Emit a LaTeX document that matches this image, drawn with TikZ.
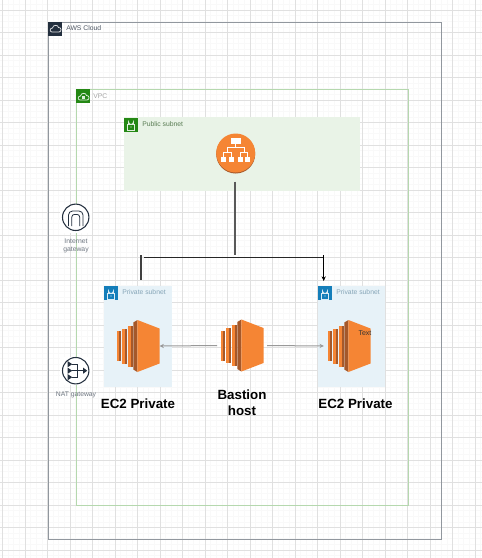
\documentclass[tikz,border=0pt]{standalone}
\usepackage{fontspec}
\setmainfont{Liberation Sans}
\usetikzlibrary{arrows.meta}
\definecolor{awsorange}{HTML}{F58534}
\definecolor{awsdark}{HTML}{A5582A}
\definecolor{awsnavy}{HTML}{232F3E}
\definecolor{tabgreen}{HTML}{248814}
\definecolor{tabblue}{HTML}{147EBA}
\definecolor{vpcline}{HTML}{B5D8AE}
\tikzset{
  x=0.75pt,y=-0.75pt,
  framebox/.style={draw=#1,line width=0.85pt,fill=none,inner sep=0pt,anchor=north west},
  fillbox/.style={fill=#1,draw=none,inner sep=0pt,anchor=north west},
  tabbox/.style={fill=#1,draw=none,inner sep=0pt,minimum size=10.5pt,anchor=north west},
  smalllabel/.style={text=#1,font=\fontsize{5.1pt}{6.2pt}\selectfont,anchor=west,inner sep=0pt},
  gwlabel/.style={text=#1,font=\fontsize{5.1pt}{5.8pt}\selectfont,align=center,inner sep=0pt},
  biglabel/.style={font=\bfseries\fontsize{10pt}{12pt}\selectfont,align=center,inner sep=0pt,text=black},
  iconbox/.style={inner sep=0pt,minimum width=33pt,minimum height=39.75pt},
  hollow/.style={draw=#1,line width=0.55pt,fill=none},
  gwcircle/.style={draw=awsnavy,line width=0.8pt,fill=white,circle,inner sep=0pt,minimum size=19.8pt},
  mainline/.style={draw=#1,line width=0.8pt},
  grayflow/.style={draw=#1,line width=0.75pt,-{Stealth[length=3.2pt,width=3.2pt]}},
}
\newcommand{\ecicon}[2]{%
 \begin{scope}[shift={(#1,#2)}]
  \fill[awsorange] (-21.5,-15) rectangle (-18.6,15);
  \fill[awsdark] (-18.6,-15) rectangle (-16.6,15);
  \fill[awsorange] (-16,-17.5) rectangle (-13,17.5);
  \fill[awsdark] (-13,-17.5) rectangle (-11,17.5);
  \fill[awsorange] (-10.4,-20.5) rectangle (-7.2,20.5);
  \fill[awsdark] (-7.2,-20.5) rectangle (-5.2,20.5);
  \fill[awsdark] (-4.7,-23.5) -- (-0.6,-26) -- (-0.6,26) -- (-4.7,23.5) -- cycle;
  \fill[awsorange] (-0.6,-26) -- (21.5,-17.5) -- (21.5,17.5) -- (-0.6,26) -- cycle;
 \end{scope}}
\newcommand{\lockicon}[3]{%
 \begin{scope}[shift={(#1,#2)}]
  \draw[hollow=#3] (-3.2,-1) rectangle (3.2,5);
  \draw[hollow=#3] (-2.4,-1) -- (-2.4,-3) arc[start angle=180,end angle=0,radius=2.4] -- (2.4,-1);
  \fill[#3] (0,2) circle[radius=0.6];
 \end{scope}}
\begin{document}
\begin{tikzpicture}
\useasboundingbox (0,0) rectangle (482,558);
\fill[white] (0,0) rectangle (482,558);
% grid
\foreach \i in {0,...,86} \draw[black!2.5,line width=0.4pt] ({2.5+\i*5.625},0) -- ({2.5+\i*5.625},558);
\foreach \i in {-1,...,97} \draw[black!2.5,line width=0.4pt] (0,{10+\i*5.625}) -- (482,{10+\i*5.625});
\foreach \i in {0,...,21} \draw[black!12,line width=0.6pt] ({2.5+\i*22.5},0) -- ({2.5+\i*22.5},558);
\foreach \i in {0,...,24} \draw[black!12,line width=0.6pt] (0,{10+\i*22.5}) -- (482,{10+\i*22.5});
% groups
\node[framebox=awsnavy!50,minimum width=294.75pt,minimum height=388pt] (cloud) at (48,21.5) {};
\node[tabbox=awsnavy] (cloudtab) at (48,21.5) {};
\draw[hollow=white!85!awsnavy] (52,32) .. controls (49.5,32) and (49.5,28) .. (52.5,28) .. controls (53,24.5) and (58,24.5) .. (58.5,27.5) .. controls (61.5,27) and (62,32) .. (59,32) -- cycle;
\node[smalllabel=awsnavy!80] (cloudlabel) at (66,28.5) {AWS Cloud};
\node[framebox=vpcline,minimum width=249pt,minimum height=312pt] (vpc) at (76,89) {};
\node[tabbox=tabgreen] (vpctab) at (76,89) {};
\draw[hollow=white!85!tabgreen] (80,100) .. controls (77.5,100) and (77.5,96) .. (80.5,96) .. controls (81,92.5) and (86,92.5) .. (86.5,95.5) .. controls (89.5,95) and (90,100) .. (87,100) -- cycle;
\fill[white!85!tabgreen] (82,95.5) rectangle (85,98.5);
\node[smalllabel=black!35] (vpclabel) at (93,96) {VPC};
\node[fillbox=tabgreen!10,minimum width=177pt,minimum height=55pt] (pub) at (124,117) {};
\node[tabbox=tabgreen] (pubtab) at (124,117.5) {};
\lockicon{131}{125}{white!85!tabgreen}
\node[smalllabel=tabgreen!50!black!70] (publabel) at (142,124) {Public subnet};
\node[fillbox=tabblue!10,minimum width=51pt,minimum height=75.75pt] (priva) at (104,286) {};
\node[tabbox=tabblue] (privatab) at (104,286) {};
\lockicon{111}{294}{white!85!tabblue}
\node[smalllabel=tabblue!60!black!50] (privalabel) at (122,292.5) {Private subnet};
\node[fillbox=tabblue!10,minimum width=50.25pt,minimum height=75.75pt] (privb) at (318,286) {};
\node[tabbox=tabblue] (privbtab) at (318,286) {};
\lockicon{325}{294}{white!85!tabblue}
\node[smalllabel=tabblue!60!black!50] (privblabel) at (336,292.5) {Private subnet};
% load balancer
\fill[awsdark] (235.7,154) circle[radius=19.5];
\node[circle,fill=awsorange,inner sep=0pt,minimum size=29.25pt] (elb) at (235.7,153) {};
\begin{scope}[shift={(235.7,153)}]
 \draw[white,line width=0.5pt] (0,-9) -- (0,-5.7) (-8.4,-1) -- (-8.4,-5.7) -- (8.4,-5.7) -- (8.4,-1)
   (-12,4.5) -- (-12,-1) -- (-4.6,-1) -- (-4.6,4.5)
   (12,4.5) -- (12,-1) -- (4.6,-1) -- (4.6,4.5);
 \fill[white] (-5,-15.5) rectangle (5,-9);
 \foreach \p in {-12,-4.6,4.6,12} \fill[white] ({\p-2.4},4.3) rectangle ({\p+2.4},9.3);
\end{scope}
% EC2 icons
\ecicon{138}{346}
\ecicon{242}{345.5}
\ecicon{349}{346}
\node[iconbox] (ec2a) at (138,346) {};
\node[iconbox] (bastion) at (242,345.5) {};
\node[iconbox] (ec2b) at (349,346) {};
\node[text=black!80,font=\fontsize{5.25pt}{6.3pt}\selectfont,inner sep=0pt] (ec2text) at (365,333) {Text};
% gateways
\fill[white] (60,205) rectangle (92,233);
\node[gwcircle] (igw) at (75.7,217.3) {};
\draw[awsnavy,line width=0.6pt,rounded corners=3pt] (68.5,226) -- (68.5,211) -- (83,211) -- (83,226);
\draw[awsnavy,line width=0.6pt,rounded corners=2pt] (71.8,226) -- (71.8,214.4) -- (79.7,214.4) -- (79.7,226);
\node[gwlabel=awsnavy!65] (igwlabel) at (76,246) {Internet\\gateway};
\fill[white] (60,357) rectangle (92,385);
\node[gwcircle] (nat) at (75.7,370.7) {};
\begin{scope}[shift={(75.7,370.7)}]
 \foreach \q in {-6.5,0,6.5} {
  \fill[awsnavy] (-8,{\q-3}) -- (-3.5,\q) -- (-8,{\q+3}) -- cycle;
  \draw[awsnavy,line width=0.5pt] (-4,\q) -- (2,\q);}
 \draw[awsnavy,line width=0.5pt] (2,-6.5) -- (2,6.5) (2,0) -- (8,0);
 \fill[awsnavy] (7.5,-3) -- (11.5,0) -- (7.5,3) -- cycle;
\end{scope}
\node[gwlabel=awsnavy!65] (natlabel) at (76,394.5) {NAT gateway};
% big labels
\node[biglabel] (ec2alabel) at (138,403.3) {EC2 Private};
\node[biglabel] (bastionlabel) at (242,403) {Bastion\\host};
\node[biglabel] (ec2blabel) at (355.5,403.3) {EC2 Private};
% connectors
\coordinate (trunktop) at (235,181.7);
\coordinate (trunkend) at (235,255);
\coordinate (busl) at (144,257.3);
\coordinate (busr) at (323.7,257.3);
\coordinate (stubtop) at (141,255);
\coordinate (stubend) at (141,280);
\coordinate (droptop) at (323.7,255);
\coordinate (dropend) at (323.7,281);
\draw[mainline=black!65,line width=1.3pt] (trunktop) -- (trunkend);
\draw[mainline=black!85] (busl) -- (busr);
\draw[mainline=black!75,line width=1pt] (stubtop) -- (stubend);
\draw[mainline=black,-{Stealth[length=3.5pt,width=3.2pt]}] (droptop) -- (dropend);
\draw[grayflow=black!40,shorten <=2pt,shorten >=-0.5pt] (bastion.west) -- (ec2a.east);
\draw[grayflow=black!40,shorten <=2.2pt,shorten >=2.2pt] (bastion.east) -- (ec2b.west);
\end{tikzpicture}
\end{document}
